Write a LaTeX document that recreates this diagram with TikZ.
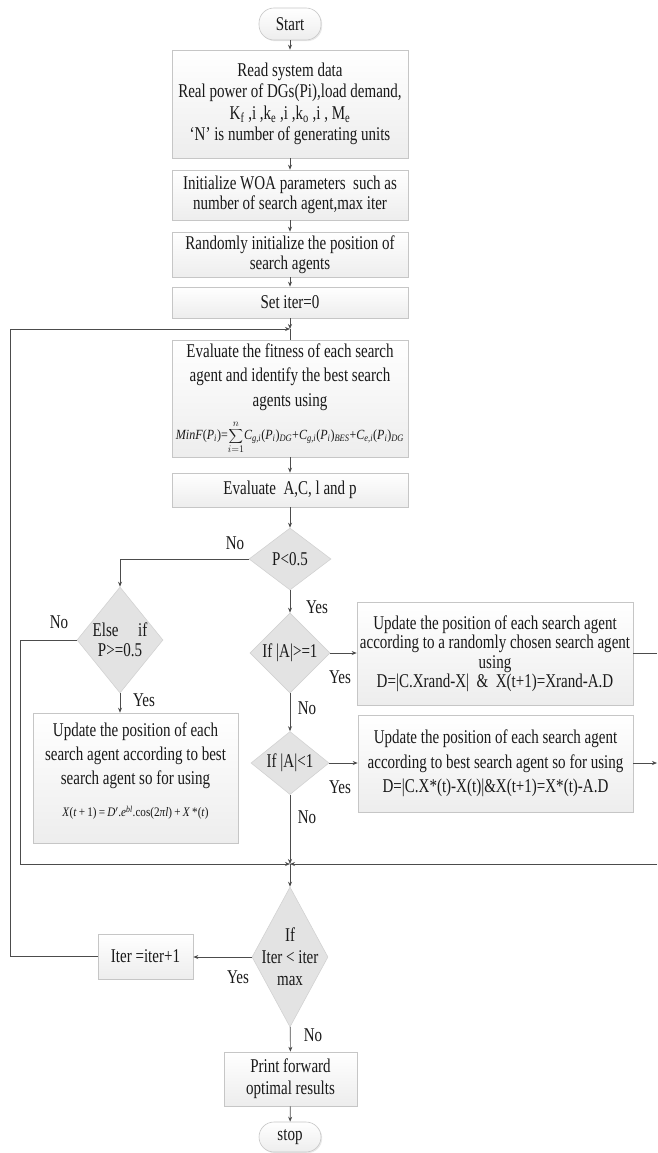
\documentclass[tikz,border=0pt]{standalone}
\usepackage{fontspec}
\setmainfont[FakeStretch=0.77]{Liberation Serif}
\newfontfamily\fmla[FakeStretch=0.86]{Liberation Serif}
\usetikzlibrary{shapes.geometric,arrows.meta,shadows}
\newcommand{\sbi}[1]{\textsubscript{\textit{#1}}}
\begin{document}
\begin{tikzpicture}[x=1pt,y=-1pt,
  every node/.style={font=\fontsize{19.5}{20.5}\selectfont, text=black!90},
  proc/.style={draw=gray!45, line width=0.6pt, top color=white, bottom color=gray!14, align=center, inner sep=0pt,
    drop shadow={opacity=0.18,shadow xshift=1.2pt,shadow yshift=-1.2pt}},
  term/.style={proc, rounded corners=15pt},
  dec/.style={diamond, draw=gray!35, fill=gray!22, inner sep=0pt, line width=0.6pt},
  lab/.style={inner sep=0pt, align=center},
  line/.style={draw=black!70, line width=0.7pt},
  arr/.style={line, -{Stealth[length=5pt,width=4pt]}}]
\useasboundingbox (0,0) rectangle (657,1153);

% process boxes
\node[term, minimum width=62pt, minimum height=32pt] (start) at (290,24) {Start};
\node[proc, minimum width=236pt, minimum height=108pt, font=\fontsize{19.5}{21.5}\selectfont] (read) at (290,104)
  {Read system data\\Real power of DGs(Pi),load demand,\\K\textsubscript{f} ,i ,k\textsubscript{e} ,i ,k\textsubscript{o} ,i , M\textsubscript{e}\\‘N’ is number of generating units};
\node[proc, minimum width=236pt, minimum height=50pt] (init) at (290,195)
  {Initialize WOA parameters\ \ such as\\number of search agent,max iter};
\node[proc, minimum width=236pt, minimum height=45pt] (rand) at (290,254.5)
  {Randomly initialize the position of\\search agents};
\node[proc, minimum width=236pt, minimum height=31pt] (setiter) at (290,302.5) {Set iter=0};
\node[proc, minimum width=236pt, minimum height=117pt, font=\fontsize{19.5}{24.5}\selectfont] (eval) at (290,398.5)
  {Evaluate the fitness of each search\\agent and identify the best search\\agents using\\[9pt]
  {\fmla\fontsize{14}{15}\selectfont\textit{MinF}(\textit{P}\sbi{i})=$\displaystyle\sum_{i=1}^{n}$\textit{C}\sbi{g,i}(\textit{P}\sbi{i})\sbi{DG}+\textit{C}\sbi{g,i}(\textit{P}\sbi{i})\sbi{BES}+\textit{C}\sbi{e,i}(\textit{P}\sbi{i})\sbi{DG}}};
\node[proc, minimum width=236pt, minimum height=34pt] (evalA) at (290,490) {Evaluate\ \ A,C, l and p};

% decisions
\node[dec, minimum width=82pt, minimum height=62pt, label={[lab]center:P<0.5}] (d1) at (290,559) {};
\node[dec, minimum width=86pt, minimum height=106pt, label={[lab]center:{Else\quad if\\P>=0.5}}] (d2) at (120,640) {};
\node[dec, minimum width=80pt, minimum height=80pt, label={[lab]center:If |A|>=1}] (d3) at (290,653) {};
\node[dec, minimum width=78pt, minimum height=63pt, label={[lab]center:If |A|<1}] (d4) at (290,763) {};
\node[dec, minimum width=76pt, minimum height=140pt, label={[lab, font=\fontsize{19.5}{22}\selectfont]center:{If\\Iter < iter\\max}}] (d5) at (290,957) {};

% update boxes
\node[proc, minimum width=205pt, minimum height=130pt,
  label={[lab, yshift=7pt, font=\fontsize{19.5}{24}\selectfont]center:{Update the position of each\\search agent according to best\\search agent so for using\\[8pt]
  {\fmla\fontsize{13}{15}\selectfont\textit{X}(\textit{t}\,+\,1)\,=\,\textit{D}$'$.\textit{e}\textsuperscript{\textit{bl}}.cos(2\textit{πl})\,+\,\textit{X}\,*(\textit{t})}}}] (upd1) at (135.5,778) {};
\node[proc, minimum width=276pt, minimum height=103pt, font=\fontsize{19.5}{19.5}\selectfont] (upd2) at (495,653.5)
  {Update the position of each search agent\\according to a randomly chosen search agent\\using\\D=|C.Xrand-X|\ \ \&\ \ X(t+1)=Xrand-A.D};
\node[proc, minimum width=275pt, minimum height=97pt, font=\fontsize{19.5}{24.5}\selectfont] (upd3) at (495.5,763.5)
  {Update the position of each search agent\\according to best search agent so for using\\D=|C.X*(t)-X(t)|\&X(t+1)=X*(t)-A.D};

\node[proc, minimum width=95pt, minimum height=45pt] (iter) at (145.5,956.5) {Iter =iter+1};
\node[proc, minimum width=133pt, minimum height=54pt, font=\fontsize{19.5}{22}\selectfont] (print) at (290.5,1079) {Print forward\\optimal results};
\node[term, minimum width=62pt, minimum height=30pt] (stop) at (290,1137) {stop};

% coordinates
\coordinate (j1) at (290,329);
\coordinate (m) at (290,864);
\coordinate (lb) at (20,864);
\coordinate (e1) at (657,653);
\coordinate (e2) at (657,763);
\coordinate (e3) at (657,864);
\coordinate (lo1) at (10,957);
\coordinate (lo2) at (10,329);

% connectors
\draw[arr] (start) -- (read);
\draw[arr] (read) -- (init);
\draw[arr] (init) -- (rand);
\draw[arr] (rand) -- (setiter);
\draw[arr] (setiter) -- (j1);
\draw[line] (j1) -- (eval);
\draw[arr] (eval) -- (evalA);
\draw[arr] (evalA) -- (d1);
\draw[arr] (d1.west) -| (d2.north);
\draw[arr] (d1) -- (d3);
\draw[arr] (d2.south) -- (d2.south |- upd1.north);
\draw[arr] (d2.west) -| (lb) -- (m);
\draw[arr] (d3.east) -- (d3.east -| upd2.west);
\draw[line] (upd2.east |- e1) -- (e1);
\draw[arr] (d3) -- (d4);
\draw[arr] (d4.east) -- (d4.east -| upd3.west);
\draw[arr] (upd3.east |- e2) -- (e2);
\draw[arr] (d4) -- (m);
\draw[arr] (e3) -- (m);
\draw[arr] (m) -- (d5);
\draw[arr] (d5.west) -- (d5.west -| iter.east);
\draw[arr] (iter.west) -- (iter.west -| lo1) -- (lo2) -- (j1);
\draw[arr] (d5) -- (print);
\draw[arr] (print) -- (stop);

% labels
\node[lab] (l1) at (235,543) {No};
\node[lab] (l2) at (317,607) {Yes};
\node[lab] (l3) at (59,622) {No};
\node[lab] (l4) at (144,700) {Yes};
\node[lab] (l5) at (340,677) {Yes};
\node[lab] (l6) at (307,708) {No};
\node[lab] (l7) at (340,787) {Yes};
\node[lab] (l8) at (307,817) {No};
\node[lab] (l9) at (238,977) {Yes};
\node[lab] (l10) at (313,1035) {No};
\end{tikzpicture}
\end{document}
